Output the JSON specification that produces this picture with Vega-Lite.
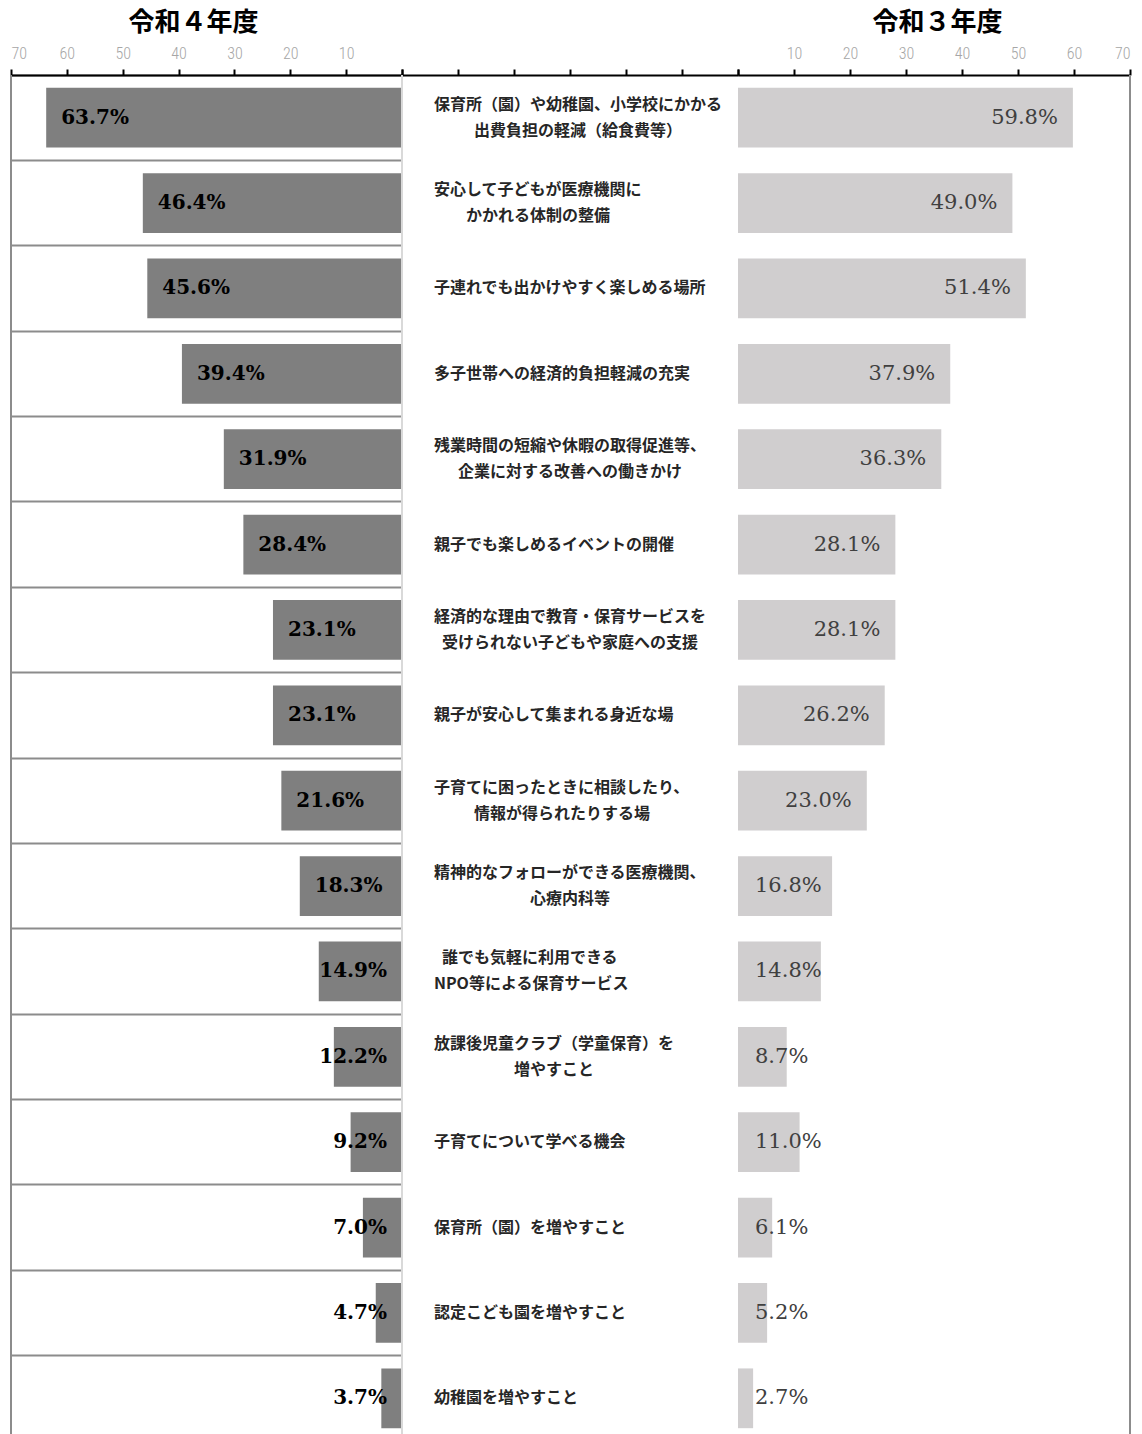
{
  "$schema": "https://vega.github.io/schema/vega-lite/v6.json",
  "width": 1119,
  "height": 1359,
  "autosize": {"type": "none"},
  "padding": {"left": 11, "top": 75, "right": 12, "bottom": 0},
  "background": "white",
  "config": {
    "view": {"stroke": null},
    "axisX": {
      "orient": "top",
      "domainColor": "black",
      "domainWidth": 2,
      "tickColor": "black",
      "tickWidth": 2,
      "tickSize": 6,
      "labelColor": "#a6a6a6",
      "labelFont": "Roboto Condensed, DejaVu Sans Condensed, Roboto, sans-serif",
      "labelFontWeight": 300,
      "labelFontSize": 16,
      "labelPadding": 8,
      "labelFlush": true,
      "titleFont": "Noto Sans CJK JP",
      "titleFontSize": 26,
      "titleFontWeight": "bold",
      "titleColor": "black",
      "titlePadding": 10,
      "grid": false,
      "zindex": 2
    }
  },
  "data": {
    "values": [
      {"item": "保育所（園）や幼稚園、小学校にかかる\n\u200b\u3000\u3000\u2002出費負担の軽減（給食費等）", "r4": 63.7, "r3": 59.8},
      {"item": "安心して子どもが医療機関に\n\u200b\u3000\u3000かかれる体制の整備", "r4": 46.4, "r3": 49.0},
      {"item": "子連れでも出かけやすく楽しめる場所", "r4": 45.6, "r3": 51.4},
      {"item": "多子世帯への経済的負担軽減の充実", "r4": 39.4, "r3": 37.9},
      {"item": "残業時間の短縮や休暇の取得促進等、\n\u200b\u3000\u2002企業に対する改善への働きかけ", "r4": 31.9, "r3": 36.3},
      {"item": "親子でも楽しめるイベントの開催", "r4": 28.4, "r3": 28.1},
      {"item": "経済的な理由で教育・保育サービスを\n\u200b\u2002受けられない子どもや家庭への支援", "r4": 23.1, "r3": 28.1},
      {"item": "親子が安心して集まれる身近な場", "r4": 23.1, "r3": 26.2},
      {"item": "子育てに困ったときに相談したり、\n\u200b\u3000\u3000\u2002情報が得られたりする場", "r4": 21.6, "r3": 23.0},
      {"item": "精神的なフォローができる医療機関、\n\u200b\u3000\u3000\u3000\u3000\u3000\u3000心療内科等", "r4": 18.3, "r3": 16.8},
      {"item": "\u200b\u2002誰でも気軽に利用できる\nNPO等による保育サービス", "r4": 14.9, "r3": 14.8},
      {"item": "放課後児童クラブ（学童保育）を\n\u200b\u3000\u3000\u3000\u3000\u3000増やすこと", "r4": 12.2, "r3": 8.7},
      {"item": "子育てについて学べる機会", "r4": 9.2, "r3": 11.0},
      {"item": "保育所（園）を増やすこと", "r4": 7.0, "r3": 6.1},
      {"item": "認定こども園を増やすこと", "r4": 4.7, "r3": 5.2},
      {"item": "幼稚園を増やすこと", "r4": 3.7, "r3": 2.7}
    ]
  },
  "layer": [
    {
      "layer": [
        {
          "mark": {"type": "bar", "color": "#7f7f7f", "height": {"band": 0.7}},
          "encoding": {
            "x": {
              "field": "r4", "type": "quantitative",
              "scale": {"domain": [0, 70], "range": [391, 0]},
              "axis": {"orient": "top", "values": [0, 10, 20, 30, 40, 50, 60, 70], "labelExpr": "datum.value == 0 ? '' : datum.label", "title": "令和４年度", "titleX": 182}
            },
            "y": {"field": "item", "type": "nominal", "sort": null,
                  "scale": {"range": [0, 1366], "paddingInner": 0, "paddingOuter": 0},
                  "axis": {"title": null, "labels": false, "ticks": false, "domain": false, "grid": true, "bandPosition": 0, "gridColor": "#8c8c8c", "gridWidth": 2, "zindex": 0}}
          }
        },
        {
          "transform": [{"filter": "datum.r4 >= 15"}],
          "mark": {"type": "text", "align": "left", "baseline": "middle", "dx": 15, "font": "DejaVu Serif", "fontWeight": "bold", "fontSize": 20, "color": "black", "text": {"expr": "format(datum.r4, '.1f') + '%'"}},
          "encoding": {
            "x": {"field": "r4", "type": "quantitative"},
            "y": {"field": "item", "type": "nominal", "sort": null}
          }
        },
        {
          "transform": [{"filter": "datum.r4 < 15"}],
          "mark": {"type": "text", "align": "right", "baseline": "middle", "dx": -15, "font": "DejaVu Serif", "fontWeight": "bold", "fontSize": 20, "color": "black", "text": {"expr": "format(datum.r4, '.1f') + '%'"}},
          "encoding": {
            "x": {"datum": 0, "type": "quantitative"},
            "y": {"field": "item", "type": "nominal", "sort": null}
          }
        },
        {
          "data": {"values": [{"pos": 0, "kind": "center"}]},
          "mark": {"type": "rule", "color": "#d9d9d9", "strokeWidth": 2},
          "encoding": {"x": {"field": "pos", "type": "quantitative"}}
        },
        {
          "data": {"values": [{"pos": 70, "kind": "border"}]},
          "mark": {"type": "rule", "color": "#8c8c8c", "strokeWidth": 2},
          "encoding": {"x": {"field": "pos", "type": "quantitative"}}
        }
      ]
    },
    {
      "layer": [
        {
          "transform": [{"filter": "indexof(datum.item, '\\n') < 0"}],
          "mark": {"type": "text", "align": "left", "baseline": "middle", "font": "Noto Sans CJK JP", "fontWeight": "bold", "fontSize": 16, "lineHeight": 26, "lineBreak": "\n", "color": "#262626"},
          "encoding": {
            "x": {"datum": 5.7, "type": "quantitative",
                  "scale": {"domain": [0, 60], "range": [391, 727]},
                  "axis": {"orient": "top", "values": [0, 10, 20, 30, 40, 50, 60], "labels": false, "title": null}},
            "y": {"field": "item", "type": "nominal", "sort": null},
            "text": {"field": "item", "type": "nominal"}
          }
        },
        {
          "transform": [{"filter": "indexof(datum.item, '\\n') >= 0"}],
          "mark": {"type": "text", "align": "left", "baseline": "middle", "dy": -13, "font": "Noto Sans CJK JP", "fontWeight": "bold", "fontSize": 16, "lineHeight": 26, "lineBreak": "\n", "color": "#262626"},
          "encoding": {
            "x": {"datum": 5.7, "type": "quantitative"},
            "y": {"field": "item", "type": "nominal", "sort": null},
            "text": {"field": "item", "type": "nominal"}
          }
        }
      ]
    },
    {
      "layer": [
        {
          "mark": {"type": "bar", "color": "#d0cecf", "height": {"band": 0.7}},
          "encoding": {
            "x": {
              "field": "r3", "type": "quantitative",
              "scale": {"domain": [0, 70], "range": [727, 1119]},
              "axis": {"orient": "top", "values": [0, 10, 20, 30, 40, 50, 60, 70], "labelExpr": "datum.value == 0 ? '' : datum.label", "title": "令和３年度", "titleX": 926}
            },
            "y": {"field": "item", "type": "nominal", "sort": null}
          }
        },
        {
          "transform": [{"filter": "datum.r3 >= 20"}],
          "mark": {"type": "text", "align": "right", "baseline": "middle", "dx": -15, "font": "DejaVu Serif", "fontSize": 21, "color": "#404040", "text": {"expr": "format(datum.r3, '.1f') + '%'"}},
          "encoding": {
            "x": {"field": "r3", "type": "quantitative"},
            "y": {"field": "item", "type": "nominal", "sort": null}
          }
        },
        {
          "transform": [{"filter": "datum.r3 < 20"}],
          "mark": {"type": "text", "align": "left", "baseline": "middle", "dx": 17, "font": "DejaVu Serif", "fontSize": 21, "color": "#404040", "text": {"expr": "format(datum.r3, '.1f') + '%'"}},
          "encoding": {
            "x": {"datum": 0, "type": "quantitative"},
            "y": {"field": "item", "type": "nominal", "sort": null}
          }
        },
        {
          "data": {"values": [{"pos": 70, "kind": "border"}]},
          "mark": {"type": "rule", "color": "#8c8c8c", "strokeWidth": 2},
          "encoding": {"x": {"field": "pos", "type": "quantitative"}}
        }
      ]
    }
  ],
  "resolve": {"scale": {"x": "independent"}, "axis": {"x": "independent"}}
}
